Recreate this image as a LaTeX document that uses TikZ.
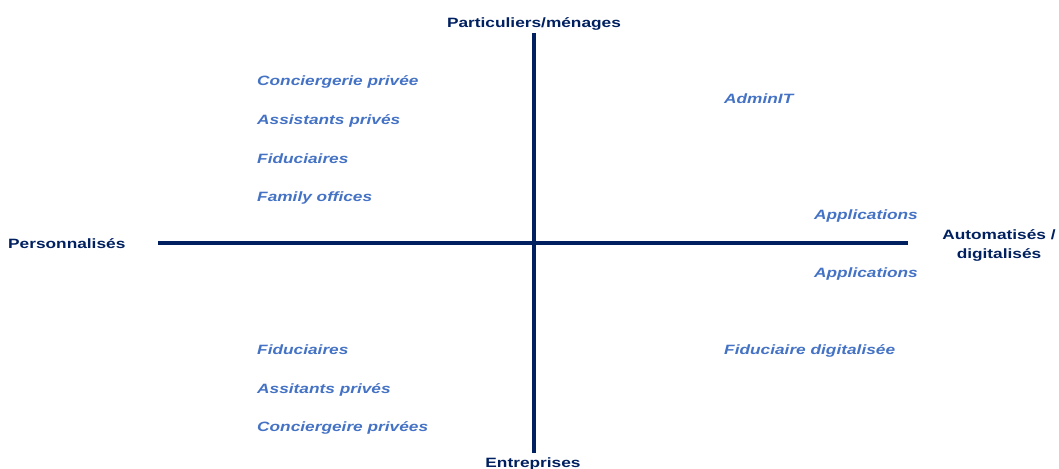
\documentclass[tikz,border=0pt]{standalone}
\usepackage{fontspec}
\setmainfont{Liberation Sans}
\newfontfamily\widesans[FakeStretch=1.28]{Liberation Sans}
\usetikzlibrary{positioning}
\definecolor{axisnavy}{HTML}{002060}
\definecolor{itemblue}{HTML}{4472C4}

\begin{document}
\begin{tikzpicture}[x=1pt, y=-1pt,
    axislabel/.style={font=\widesans\fontsize{13.5}{18}\selectfont\bfseries, text=axisnavy, inner sep=0pt, anchor=base},
    item/.style={font=\widesans\fontsize{13.5}{18}\selectfont\bfseries\itshape, text=itemblue, inner sep=0pt, anchor=base west}]
    \useasboundingbox (0,0) rectangle (1059,468);

    % Axes
    \coordinate (top) at (534,33);
    \coordinate (bottom) at (534,453);
    \coordinate (left) at (158,243);
    \coordinate (right) at (908,243);
    \draw[axisnavy, line width=4pt] (top) -- (bottom);
    \draw[axisnavy, line width=4pt] (left) -- (right);

    % Axis labels
    \node[axislabel] (menages) at (534,27.3) {Particuliers/ménages};
    \node[axislabel] (entreprises) at (533,467) {Entreprises};
    \node[axislabel, anchor=base west] (perso) at (8,248) {Personnalisés};
    \node[axislabel] (auto) at (999,239) {Automatisés /};
    \node[axislabel] (digit) at (999,258) {digitalisés};

    % Top left
    \node[item] (conc) at (257,86) {Conciergerie privée};
    \node[item] (assist) at (257,124.5) {Assistants privés};
    \node[item] (fidu) at (257,163) {Fiduciaires};
    \node[item] (family) at (257,201) {Family offices};

    % Bottom left
    \node[item] (fidub) at (257,354.5) {Fiduciaires};
    \node[item] (assistb) at (257,393) {Assitants privés};
    \node[item] (concb) at (257,431) {Conciergeire privées};

    % Right side
    \node[item] (admin) at (724,104) {AdminIT};
    \node[item, anchor=base east] (apptop) at (918,219.5) {Applications};
    \node[item, anchor=base east] (appbot) at (918,277.5) {Applications};
    \node[item] (fidudig) at (724,354) {Fiduciaire digitalisée};
\end{tikzpicture}
\end{document}
